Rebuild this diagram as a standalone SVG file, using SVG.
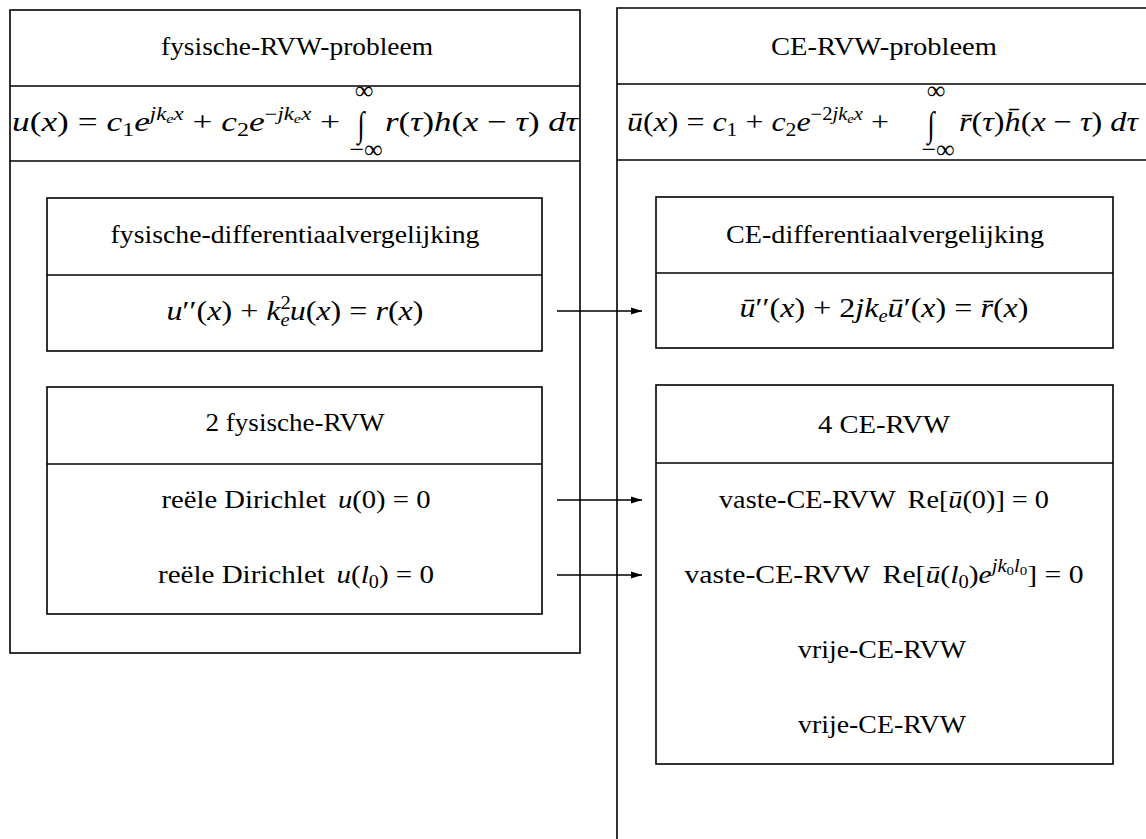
<svg xmlns="http://www.w3.org/2000/svg" width="1146" height="839" viewBox="0 0 1146 839">
<style>
.t{font-family:'Liberation Serif','DejaVu Serif','Times New Roman',serif;font-size:26px;fill:#000}
.m{font-size:28px}
.i{font-style:italic}
.box{fill:none;stroke:#000;stroke-width:1.6}
.ln{stroke:#000;stroke-width:1.6;fill:none}
.ar{stroke:#000;stroke-width:1.4;fill:none}
</style>
<defs>
<marker id="ah" markerWidth="12" markerHeight="8" refX="11" refY="4" orient="auto" markerUnits="userSpaceOnUse"><path d="M0,0.5 L11,4 L0,7.5 z" fill="#000"/></marker>
</defs>
<rect width="1146" height="839" fill="#fff"/>

<g id="fysisch-probleem">
<rect class="box" x="10" y="10" width="570" height="643"/>
<line class="ln" x1="10" y1="86" x2="580" y2="86"/>
<line class="ln" x1="10" y1="161" x2="580" y2="161"/>
<text class="t" x="297" y="55" text-anchor="middle" textLength="272" lengthAdjust="spacingAndGlyphs">fysische-RVW-probleem</text>
<text class="t m" x="12" y="131" textLength="328" lengthAdjust="spacingAndGlyphs"><tspan class="i">u</tspan>(<tspan class="i">x</tspan>) = <tspan class="i">c</tspan><tspan font-size="19" dy="5">1</tspan><tspan class="i" dy="-5">e</tspan><tspan class="i" font-size="18" dy="-11">jk</tspan><tspan class="i" font-size="13" dy="3">e</tspan><tspan class="i" font-size="18" dy="-3">x</tspan><tspan dy="11"> + </tspan><tspan class="i">c</tspan><tspan font-size="19" dy="5">2</tspan><tspan class="i" dy="-5">e</tspan><tspan font-size="18" dy="-11">−</tspan><tspan class="i" font-size="18">jk</tspan><tspan class="i" font-size="13" dy="3">e</tspan><tspan class="i" font-size="18" dy="-3">x</tspan><tspan dy="11"> +</tspan></text>
<text class="t" x="364" y="99" text-anchor="middle" font-size="17">∞</text>
<text class="t" transform="translate(361,136) scale(1,1.35)" text-anchor="middle" font-size="26">∫</text>
<text class="t" x="366" y="158" text-anchor="middle" font-size="17">−∞</text>
<text class="t m" x="385" y="131" textLength="193" lengthAdjust="spacingAndGlyphs"><tspan class="i">r</tspan>(<tspan class="i">τ</tspan>)<tspan class="i">h</tspan>(<tspan class="i">x</tspan> − <tspan class="i">τ</tspan>) <tspan class="i">dτ</tspan></text>
</g>

<g id="fysisch-dv">
<rect class="box" x="47" y="198" width="495" height="153"/>
<line class="ln" x1="47" y1="275" x2="542" y2="275"/>
<text class="t" x="295" y="243" text-anchor="middle" textLength="369" lengthAdjust="spacingAndGlyphs">fysische-differentiaalvergelijking</text>
<text class="t m" x="295" y="320" text-anchor="middle" textLength="257" lengthAdjust="spacingAndGlyphs"><tspan class="i">u</tspan>′′(<tspan class="i">x</tspan>) + <tspan class="i">k</tspan><tspan font-size="18" dy="-11">2</tspan><tspan class="i" font-size="18" dx="-9" dy="17">e</tspan><tspan class="i" dy="-6">u</tspan>(<tspan class="i">x</tspan>) = <tspan class="i">r</tspan>(<tspan class="i">x</tspan>)</text>
</g>

<g id="fysisch-rvw">
<rect class="box" x="47" y="387" width="495" height="227"/>
<line class="ln" x1="47" y1="464" x2="542" y2="464"/>
<text class="t" x="295" y="431" text-anchor="middle" textLength="179" lengthAdjust="spacingAndGlyphs">2 fysische-RVW</text>
<text class="t" x="296" y="508" text-anchor="middle" textLength="269" lengthAdjust="spacingAndGlyphs">reële Dirichlet <tspan class="i" dx="4">u</tspan>(0) = 0</text>
<text class="t" x="296" y="583" text-anchor="middle" textLength="276" lengthAdjust="spacingAndGlyphs">reële Dirichlet <tspan class="i" dx="4">u</tspan>(<tspan class="i">l</tspan><tspan font-size="18" dy="5">0</tspan><tspan dy="-5">) = 0</tspan></text>
</g>

<g id="ce-probleem">
<path class="ln" d="M1146,8 H617 V839"/>
<line class="ln" x1="617" y1="84" x2="1146" y2="84"/>
<line class="ln" x1="617" y1="160" x2="1146" y2="160"/>
<text class="t" x="884" y="55" text-anchor="middle" textLength="226" lengthAdjust="spacingAndGlyphs">CE-RVW-probleem</text>
<text class="t m" x="627" y="131" textLength="262" lengthAdjust="spacingAndGlyphs"><tspan class="i">ū</tspan>(<tspan class="i">x</tspan>) = <tspan class="i">c</tspan><tspan font-size="19" dy="5">1</tspan><tspan dy="-5"> + </tspan><tspan class="i">c</tspan><tspan font-size="19" dy="5">2</tspan><tspan class="i" dy="-5">e</tspan><tspan font-size="18" dy="-11">−2</tspan><tspan class="i" font-size="18">jk</tspan><tspan class="i" font-size="13" dy="3">e</tspan><tspan class="i" font-size="18" dy="-3">x</tspan><tspan dy="11"> +</tspan></text>
<text class="t" x="936" y="99" text-anchor="middle" font-size="17">∞</text>
<text class="t" transform="translate(931,136) scale(1,1.35)" text-anchor="middle" font-size="26">∫</text>
<text class="t" x="938" y="158" text-anchor="middle" font-size="17">−∞</text>
<text class="t m" x="959" y="131" textLength="179" lengthAdjust="spacingAndGlyphs"><tspan class="i">r̄</tspan>(<tspan class="i">τ</tspan>)<tspan class="i">h̄</tspan>(<tspan class="i">x</tspan> − <tspan class="i">τ</tspan>) <tspan class="i">dτ</tspan></text>
</g>

<g id="ce-dv">
<rect class="box" x="656" y="197" width="457" height="151"/>
<line class="ln" x1="656" y1="273" x2="1113" y2="273"/>
<text class="t" x="885" y="243" text-anchor="middle" textLength="318" lengthAdjust="spacingAndGlyphs">CE-differentiaalvergelijking</text>
<text class="t m" x="884" y="317" text-anchor="middle" textLength="289" lengthAdjust="spacingAndGlyphs"><tspan class="i">ū</tspan>′′(<tspan class="i">x</tspan>) + 2<tspan class="i">jk</tspan><tspan class="i" font-size="18" dy="5">e</tspan><tspan class="i" dy="-5">ū</tspan>′(<tspan class="i">x</tspan>) = <tspan class="i">r̄</tspan>(<tspan class="i">x</tspan>)</text>
</g>

<g id="ce-rvw">
<rect class="box" x="656" y="385" width="457" height="379"/>
<line class="ln" x1="656" y1="463" x2="1113" y2="463"/>
<text class="t" x="884" y="433" text-anchor="middle" textLength="132" lengthAdjust="spacingAndGlyphs">4 CE-RVW</text>
<text class="t" x="884" y="508" text-anchor="middle" textLength="330" lengthAdjust="spacingAndGlyphs">vaste-CE-RVW <tspan dx="5">Re[</tspan><tspan class="i">ū</tspan>(0)] = 0</text>
<text class="t" x="884" y="583" text-anchor="middle" textLength="399" lengthAdjust="spacingAndGlyphs">vaste-CE-RVW <tspan dx="5">Re[</tspan><tspan class="i">ū</tspan>(<tspan class="i">l</tspan><tspan font-size="18" dy="5">0</tspan><tspan dy="-5">)</tspan><tspan class="i">e</tspan><tspan class="i" font-size="18" dy="-11">jk</tspan><tspan font-size="13" dy="3">0</tspan><tspan class="i" font-size="18" dy="-3">l</tspan><tspan font-size="13" dy="3">0</tspan><tspan dy="8">] = 0</tspan></text>
<text class="t" x="882" y="658" text-anchor="middle" textLength="168" lengthAdjust="spacingAndGlyphs">vrije-CE-RVW</text>
<text class="t" x="882" y="733" text-anchor="middle" textLength="168" lengthAdjust="spacingAndGlyphs">vrije-CE-RVW</text>
</g>

<g id="connectors">
<line class="ar" x1="557" y1="311" x2="642" y2="311" marker-end="url(#ah)"/>
<line class="ar" x1="557" y1="500" x2="642" y2="500" marker-end="url(#ah)"/>
<line class="ar" x1="557" y1="575" x2="642" y2="575" marker-end="url(#ah)"/>
</g>
</svg>
